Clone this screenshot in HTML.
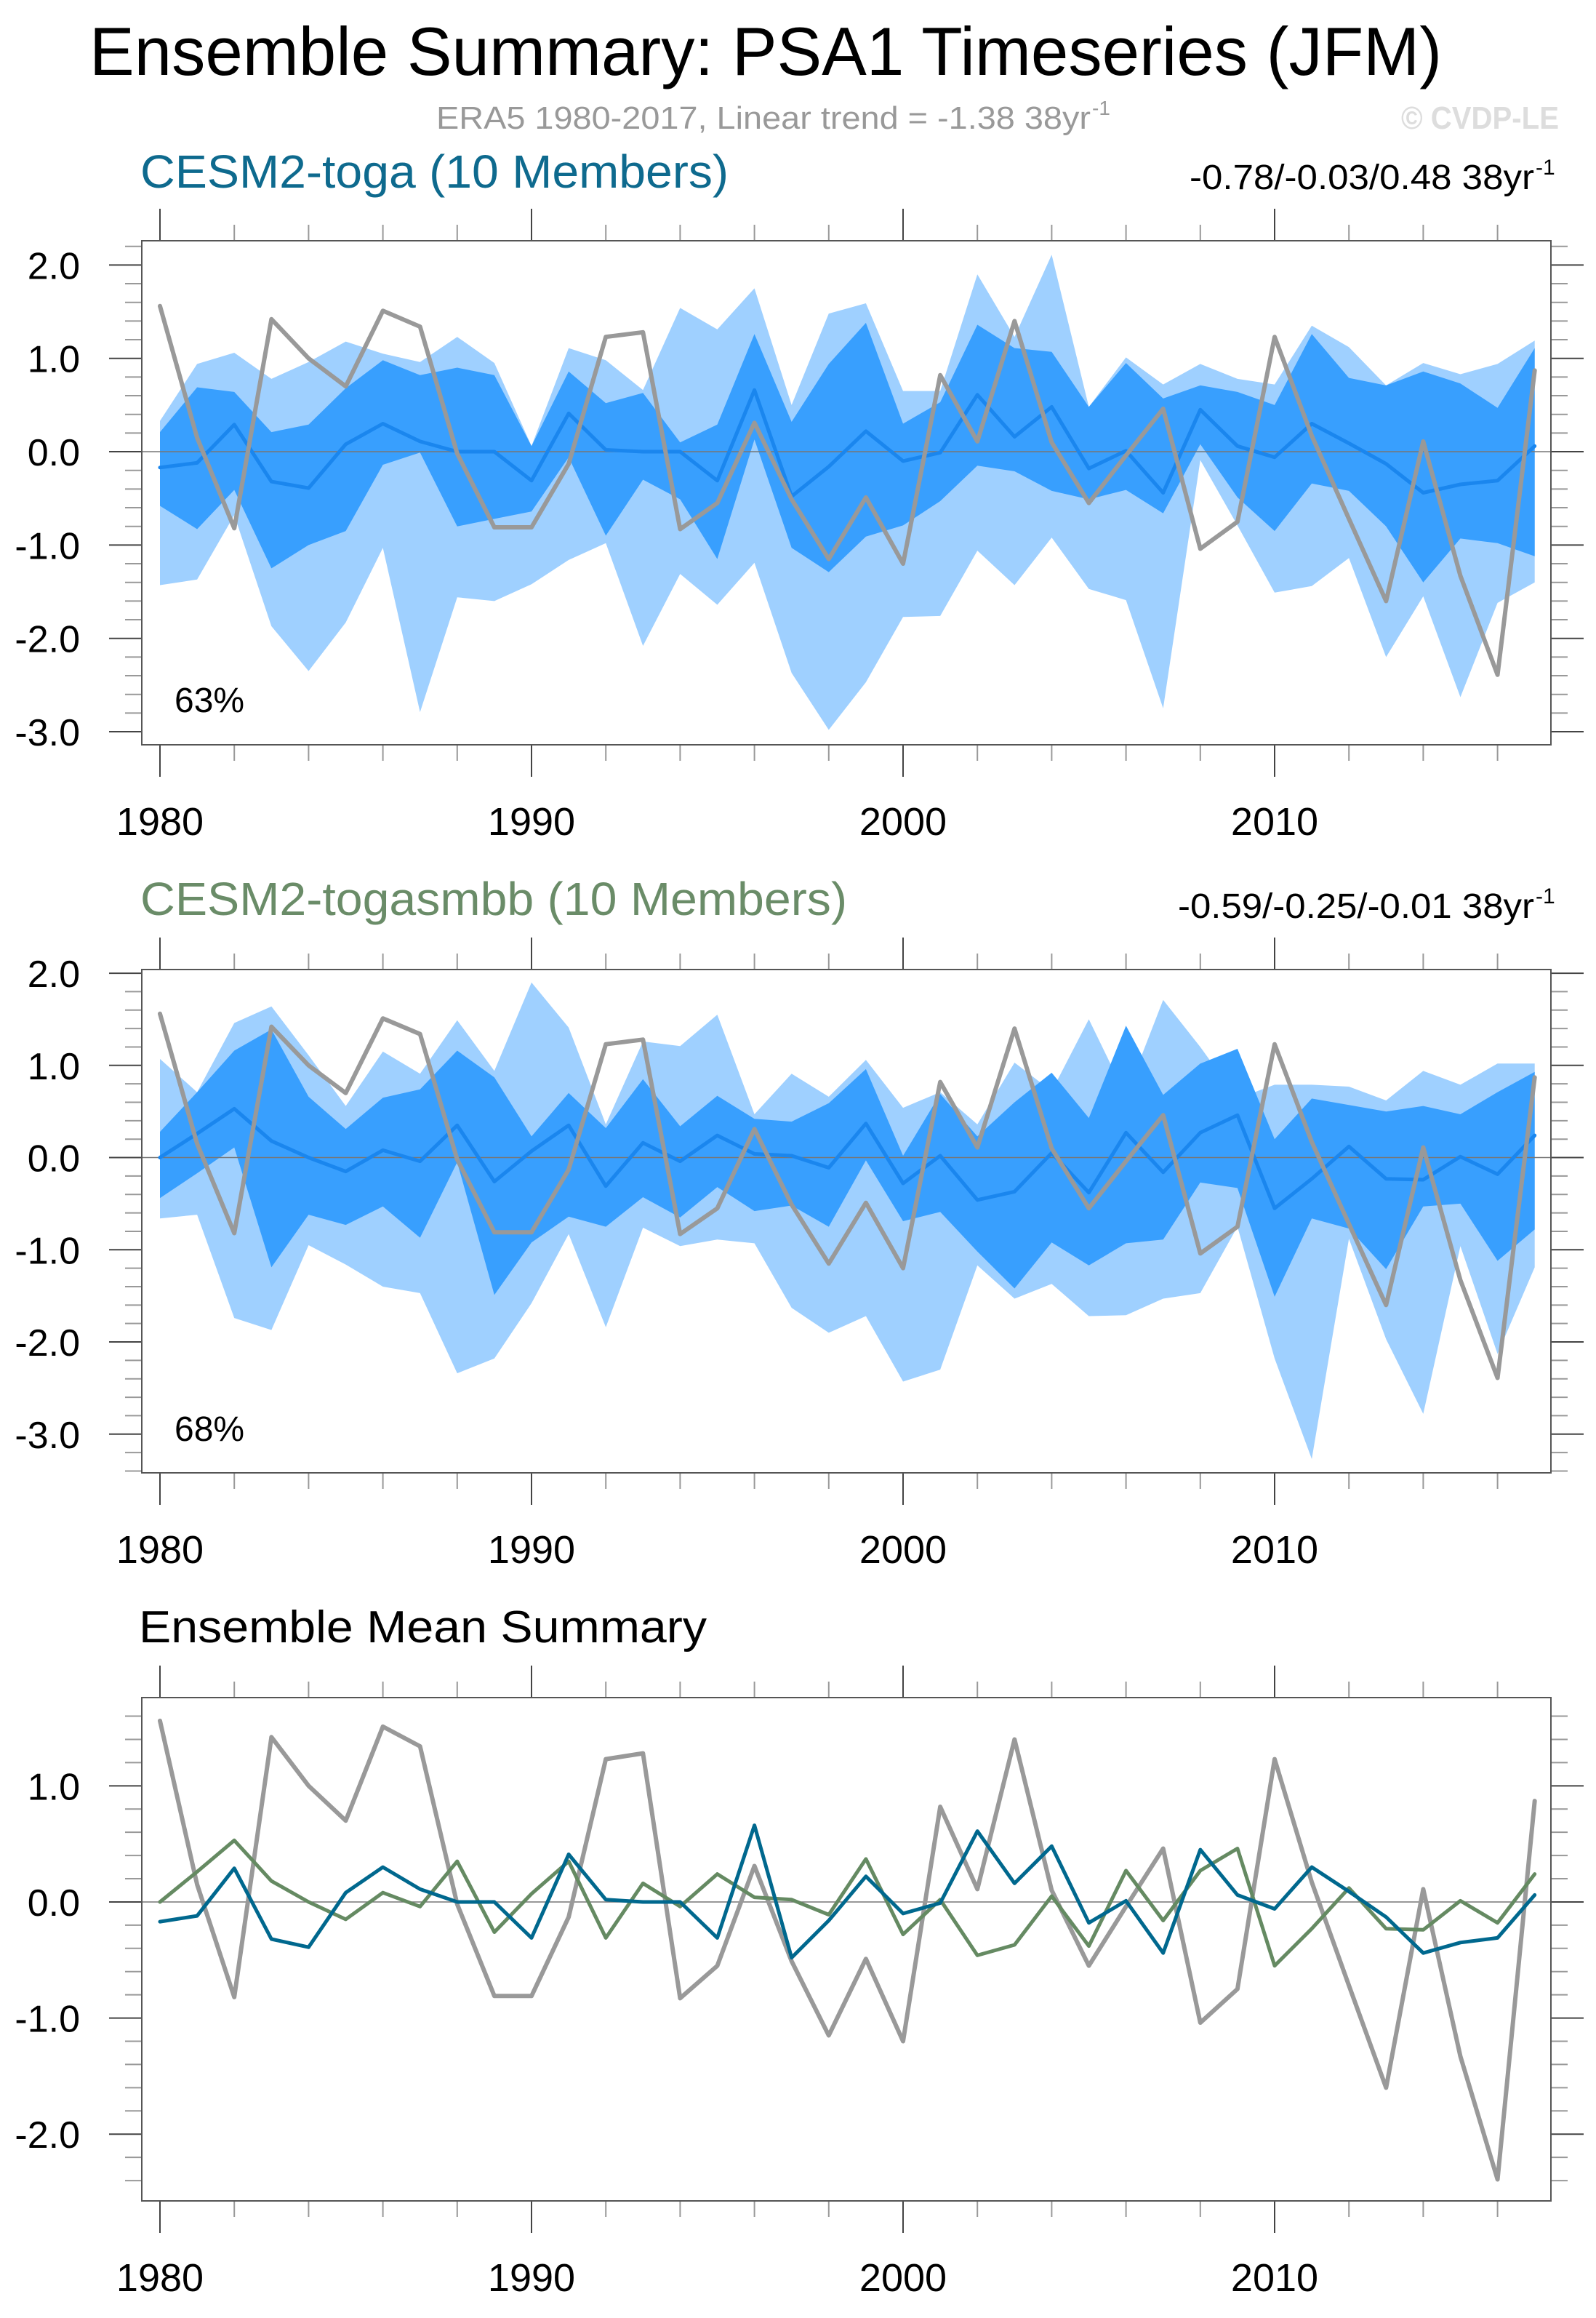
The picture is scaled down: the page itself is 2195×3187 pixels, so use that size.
<!DOCTYPE html>
<html><head><meta charset="utf-8"><style>
html,body{margin:0;padding:0;background:#fff;}
svg{display:block;font-family:"Liberation Sans",Arial,sans-serif;}
</style></head><body>
<svg id="fig" width="2195" height="3187" viewBox="0 0 2195 3187" xmlns="http://www.w3.org/2000/svg">
<text x="123" y="103" font-size="94" textLength="1860" lengthAdjust="spacingAndGlyphs">Ensemble Summary: PSA1 Timeseries (JFM)</text>
<text x="600" y="177" font-size="44" fill="#999" textLength="900" lengthAdjust="spacingAndGlyphs">ERA5 1980-2017, Linear trend = -1.38 38yr</text>
<text x="1502" y="158" font-size="28" fill="#999">-1</text>
<text x="1927" y="177" font-size="44" font-weight="bold" fill="#ddd" textLength="217" lengthAdjust="spacingAndGlyphs">© CVDP-LE</text>
<text x="193" y="258" font-size="64" fill="#0e6a8e" textLength="809" lengthAdjust="spacingAndGlyphs">CESM2-toga (10 Members)</text>
<text x="1636" y="260" font-size="48" textLength="474" lengthAdjust="spacingAndGlyphs">-0.78/-0.03/0.48 38yr</text>
<text x="2112" y="240" font-size="30">-1</text>
<text x="193" y="1258" font-size="64" fill="#6a8c68" textLength="972" lengthAdjust="spacingAndGlyphs">CESM2-togasmbb (10 Members)</text>
<text x="1620" y="1262" font-size="48" textLength="490" lengthAdjust="spacingAndGlyphs">-0.59/-0.25/-0.01 38yr</text>
<text x="2112" y="1242" font-size="30">-1</text>
<text x="191" y="2258" font-size="62" textLength="781" lengthAdjust="spacingAndGlyphs">Ensemble Mean Summary</text>
</svg>
<script>
const years = [];
for (let y = 1980; y <= 2017; y++) years.push(y);
const era5 = [1.56,0.15,-0.82,1.42,1.0,0.70,1.51,1.34,-0.02,-0.81,-0.81,-0.13,1.23,1.28,-0.83,-0.55,0.31,-0.51,-1.15,-0.49,-1.20,0.82,0.11,1.40,0.10,-0.55,-0.04,0.46,-1.04,-0.75,1.23,0.17,-0.72,-1.60,0.11,-1.33,-2.39,0.87];
const togaMean = [-0.17,-0.12,0.29,-0.32,-0.39,0.08,0.30,0.11,0.0,0.0,-0.31,0.41,0.02,0.0,0.0,-0.31,0.66,-0.48,-0.16,0.22,-0.10,-0.01,0.61,0.16,0.48,-0.18,0.01,-0.44,0.45,0.06,-0.06,0.30,0.09,-0.13,-0.44,-0.35,-0.31,0.06];
const togaMax = [0.33,0.94,1.06,0.78,0.96,1.18,1.05,0.96,1.23,0.95,0.06,1.11,0.98,0.66,1.54,1.31,1.75,0.50,1.48,1.59,0.65,0.65,1.90,1.23,2.11,0.48,1.01,0.72,0.94,0.78,0.72,1.35,1.12,0.71,0.95,0.83,0.94,1.19];
const togaHi = [0.21,0.69,0.64,0.21,0.29,0.68,0.98,0.82,0.90,0.82,0.06,0.86,0.52,0.63,0.10,0.29,1.26,0.32,0.94,1.38,0.30,0.53,1.36,1.11,1.07,0.48,0.95,0.57,0.71,0.64,0.50,1.26,0.79,0.71,0.86,0.73,0.47,1.11];
const togaLo = [-0.58,-0.83,-0.41,-1.25,-1.0,-0.85,-0.14,-0.01,-0.80,-0.72,-0.64,-0.06,-0.90,-0.30,-0.51,-1.15,0.13,-1.03,-1.29,-0.91,-0.79,-0.53,-0.15,-0.21,-0.42,-0.51,-0.41,-0.66,0.08,-0.49,-0.85,-0.34,-0.42,-0.80,-1.40,-0.93,-0.98,-1.12];
const togaMin = [-1.43,-1.37,-0.68,-1.87,-2.35,-1.83,-1.03,-2.79,-1.56,-1.60,-1.42,-1.16,-0.98,-2.08,-1.31,-1.64,-1.19,-2.37,-2.98,-2.47,-1.77,-1.76,-1.06,-1.43,-0.92,-1.47,-1.59,-2.75,-0.09,-0.79,-1.51,-1.44,-1.14,-2.20,-1.55,-2.63,-1.62,-1.40];
const smbbMean = [0.0,0.26,0.53,0.18,0.0,-0.15,0.08,-0.04,0.35,-0.26,0.07,0.35,-0.31,0.16,-0.04,0.24,0.04,0.02,-0.11,0.37,-0.28,0.02,-0.46,-0.37,0.05,-0.38,0.27,-0.16,0.27,0.46,-0.55,-0.23,0.12,-0.23,-0.24,0.01,-0.18,0.24];
const smbbMax = [1.07,0.71,1.46,1.64,1.11,0.56,1.15,0.91,1.49,0.94,1.90,1.41,0.36,1.26,1.21,1.55,0.47,0.91,0.66,1.06,0.54,0.71,0.36,1.03,0.72,1.50,0.67,1.71,1.20,0.64,0.79,0.79,0.77,0.62,0.94,0.79,1.02,1.02];
const smbbHi = [0.28,0.71,1.16,1.39,0.66,0.31,0.65,0.74,1.16,0.87,0.23,0.70,0.32,0.85,0.34,0.67,0.42,0.39,0.59,0.96,0.02,0.69,0.23,0.60,0.92,0.43,1.43,0.68,1.02,1.18,0.20,0.64,0.57,0.50,0.56,0.47,0.71,0.93];
const smbbLo = [-0.44,-0.17,0.11,-1.19,-0.62,-0.73,-0.53,-0.87,-0.05,-1.49,-0.92,-0.64,-0.75,-0.43,-0.65,-0.32,-0.58,-0.52,-0.75,-0.03,-0.69,-0.59,-1.02,-1.42,-0.92,-1.17,-0.93,-0.89,-0.27,-0.33,-1.51,-0.66,-0.77,-1.21,-0.53,-0.50,-1.12,-0.78];
const smbbMin = [-0.66,-0.62,-1.74,-1.87,-0.95,-1.16,-1.40,-1.47,-2.34,-2.18,-1.58,-0.83,-1.84,-0.76,-0.96,-0.89,-0.93,-1.63,-1.90,-1.72,-2.43,-2.30,-1.17,-1.53,-1.37,-1.72,-1.71,-1.53,-1.47,-0.75,-2.18,-3.27,-0.88,-1.97,-2.78,-0.96,-2.13,-1.19];
const ticks1 = ["2.0","1.0","0.0","-1.0","-2.0","-3.0"];
const tickVals1 = [2,1,0,-1,-2,-3];
const ticks3 = ["1.0","0.0","-1.0","-2.0"];
const tickVals3 = [1,0,-1,-2];
const xLabels = ["1980","1990","2000","2010"];
const xLabelVals = [1980,1990,2000,2010];

const NS = "http://www.w3.org/2000/svg";
const svg = document.getElementById("fig");
function mk(tag, attrs, parent) {
  const e = document.createElementNS(NS, tag);
  for (const k in attrs) e.setAttribute(k, attrs[k]);
  (parent || svg).appendChild(e);
  return e;
}
const X0 = 195, X1 = 2133;
function xs(yr) { return 220 + (yr - 1980) * 51.1; }

function panel(id, top, bottom, vTop, vBot, yTicks, yLabels, minorStart) {
  const g = mk("g", {});
  
  
  const ys = v => top + (vTop - v) / (vTop - vBot) * (bottom - top);
  // y ticks
  for (let v = minorStart; v >= vBot - 1e-6; v -= 0.2) {
    const y = ys(v);
    const major = Math.abs(v - Math.round(v)) < 1e-6;
    const len = major ? 45 : 23;
    const t1 = mk("line", {x1: X0 - len, x2: X0, y1: y, y2: y, stroke: major ? "#444" : "#999", "stroke-width": 2}, g);
    
    
    const t2 = mk("line", {x1: X1, x2: X1 + len, y1: y, y2: y, stroke: major ? "#444" : "#999", "stroke-width": 2}, g);
    
    
  }
  yTicks.forEach((v, i) => {
    const t = mk("text", {x: 110, y: ys(v) + 19, "font-size": 52, "text-anchor": "end"}, g);
    
    
    t.textContent = yLabels[i];
  });
  // x ticks
  for (let yr = 1980; yr <= 2016; yr += 2) {
    const x = xs(yr);
    const major = yr % 10 === 0;
    const len = major ? 44 : 22;
    const a = mk("line", {x1: x, x2: x, y1: top - len, y2: top, stroke: major ? "#444" : "#999", "stroke-width": 2}, g);
    
    
    const b = mk("line", {x1: x, x2: x, y1: bottom, y2: bottom + len, stroke: major ? "#444" : "#999", "stroke-width": 2}, g);
    
    
  }
  xLabelVals.forEach((yr, i) => {
    const t = mk("text", {x: xs(yr), y: bottom + 124, "font-size": 54, "text-anchor": "middle"}, g);
    
    
    t.textContent = xLabels[i];
  });
  return {g, ys};
}
function band(g, ys, hi, lo, color, name) {
  let d = "";
  years.forEach((yr, i) => { d += (i ? "L" : "M") + xs(yr).toFixed(1) + "," + ys(hi[i]).toFixed(1); });
  for (let i = years.length - 1; i >= 0; i--) d += "L" + xs(years[i]).toFixed(1) + "," + ys(lo[i]).toFixed(1);
  const p = mk("path", {d: d + "Z", fill: color}, g);
  
  
}
function line(g, ys, vals, color, w, name) {
  const pts = years.map((yr, i) => xs(yr).toFixed(1) + "," + ys(vals[i]).toFixed(1)).join(" ");
  const p = mk("polyline", {points: pts, fill: "none", stroke: color, "stroke-width": w, "stroke-linejoin": "round", "stroke-linecap": "round"}, g);
  
  
}
function zero(g, ys) {
  const z = mk("line", {x1: X0, x2: X1, y1: ys(0), y2: ys(0), stroke: "#777", "stroke-width": 1.5}, g);
  
  
}
function frame(g, top, bottom) {
  const r = mk("rect", {x: X0, y: top, width: X1 - X0, height: bottom - top, fill: "none", stroke: "#555", "stroke-width": 2}, g);
  
  
}

// Panel 1
{
  const top = 331, bottom = 1024;
  const {g, ys} = panel("panel1-cesm2-toga", top, bottom, 2.26, -3.14, tickVals1, ticks1, 2.2);
  band(g, ys, togaMax, togaMin, "#9fd0ff", "minmax-band");
  band(g, ys, togaHi, togaLo, "#389ffe", "percentile-band");
  zero(g, ys);
  line(g, ys, togaMean, "#1a86ee", 5, "ensemble-mean-line");
  line(g, ys, era5, "#999", 6, "era5-line");
  frame(g, top, bottom);
  const t = mk("text", {x: 240, y: 979, "font-size": 48}, g);
  
  
  t.textContent = "63%";
}
// Panel 2
{
  const top = 1333, bottom = 2025;
  const {g, ys} = panel("panel2-cesm2-togasmbb", top, bottom, 2.04, -3.42, tickVals1, ticks1, 2.0);
  band(g, ys, smbbMax, smbbMin, "#9fd0ff", "minmax-band");
  band(g, ys, smbbHi, smbbLo, "#389ffe", "percentile-band");
  zero(g, ys);
  line(g, ys, smbbMean, "#1a86ee", 5, "ensemble-mean-line");
  line(g, ys, era5, "#999", 6, "era5-line");
  frame(g, top, bottom);
  const t = mk("text", {x: 240, y: 1981, "font-size": 48}, g);
  
  
  t.textContent = "68%";
}
// Panel 3
{
  const top = 2334, bottom = 3026;
  const {g, ys} = panel("panel3-ensemble-mean-summary", top, bottom, 1.76, -2.575, tickVals3, ticks3, 1.6);
  zero(g, ys);
  line(g, ys, era5, "#999", 6, "era5-line");
  line(g, ys, smbbMean, "#658a62", 5, "togasmbb-mean-line");
  line(g, ys, togaMean, "#00688e", 5, "toga-mean-line");
  frame(g, top, bottom);
}
</script>
</body></html>
